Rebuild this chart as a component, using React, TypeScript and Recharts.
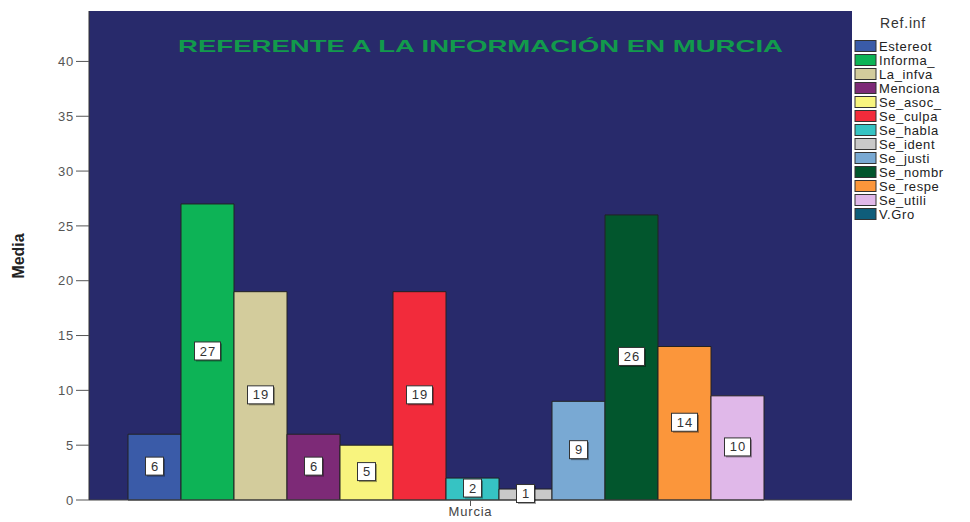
import { Bar, BarChart, CartesianGrid, LabelList, XAxis, YAxis } from "recharts"

const categories = ["Murcia"]
const series = [
  "Estereot",
  "Informa_",
  "La_infva",
  "Menciona",
  "Se_asoc_",
  "Se_culpa",
  "Se_habla",
  "Se_ident",
  "Se_justi",
  "Se_nombr",
  "Se_respe",
  "Se_utili",
  "V.Gro",
]
// media por grupo (V.Gro sin datos)
const means: (number | null)[] = [6, 27, 19, 6, 5, 19, 2, 1, 9, 26, 14, 9.5, null]
const yTicks = [0, 5, 10, 15, 20, 25, 30, 35, 40]

const colors = [
  "#3a5ba8",
  "#0db356",
  "#d3cc9c",
  "#7d2a77",
  "#f8f47e",
  "#f22b3b",
  "#36c3c3",
  "#c9c9c9",
  "#79a9d3",
  "#02562d",
  "#fb963b",
  "#e0b8e9",
  "#0f5d7a",
]

const data = categories.map((name) => {
  const row: Record<string, string | number | null> = { name }
  series.forEach((_, i) => {
    row[`v${i}`] = means[i]
  })
  return row
})

const font = "'Liberation Sans', Arial, sans-serif"

const ValueBox = (props: any) => {
  const { x, y, width, height, value } = props
  if (value == null) return null
  const txt = String(Math.round(value))
  const w = 10 + 8 * txt.length
  const cx = x + width / 2
  const cy = y + height / 2
  return (
    <g>
      <rect x={cx - w / 2 + 1.5} y={cy - 8.5} width={w} height={18} fill="#000" opacity={0.35} />
      <rect x={cx - w / 2} y={cy - 10} width={w} height={18} fill="#fff" stroke="#333" strokeWidth={1} />
      <text
        x={cx + 0.5}
        y={cy - 1}
        dy="0.35em"
        textAnchor="middle"
        fontSize={13}
        fontFamily={font}
        letterSpacing={1}
        fill="#333"
      >
        {txt}
      </text>
    </g>
  )
}

export default function App() {
  return (
    <div style={{ position: "fixed", left: 0, top: 0, width: 970, height: 522, background: "#fff" }}>
      <BarChart
        width={970}
        height={522}
        data={data}
        margin={{ top: 11, right: 118, bottom: 0, left: 0 }}
        barCategoryGap={39}
        barGap={0}
      >
        <CartesianGrid horizontal={false} vertical={false} fill="#282a6b" />
        <XAxis
          dataKey="name"
          height={22}
          tickSize={6}
          tickMargin={1}
          stroke="#555"
          axisLine={{ stroke: "#444" }}
          tick={{ fill: "#444", fontSize: 13, fontFamily: font, letterSpacing: 0.8 }}
        />
        <XAxis xAxisId="top" orientation="top" dataKey="name" height={0} tick={false} tickLine={false} axisLine={{ stroke: "#333" }} />
        <YAxis
          width={89}
          domain={[0, 44.6]}
          ticks={yTicks}
          tickSize={13}
          tickMargin={2}
          stroke="#555"
          axisLine={{ stroke: "#333" }}
          tick={{ fill: "#555", fontSize: 13, fontFamily: font, letterSpacing: 0.8 }}
        />
        <YAxis yAxisId="r" orientation="right" width={0} tick={false} tickLine={false} axisLine={{ stroke: "#333" }} />
        {series.map((s, i) => (
          <Bar
            key={s}
            dataKey={`v${i}`}
            name={s}
            fill={colors[i]}
            stroke="#222"
            strokeWidth={1}
            isAnimationActive={false}
          >
            <LabelList dataKey={`v${i}`} content={ValueBox} />
          </Bar>
        ))}
      </BarChart>
      <svg
        width={970}
        height={522}
        style={{ position: "absolute", left: 0, top: 0, pointerEvents: "none" }}
      >
        <text
          x={178}
          y={52}
          fontSize={17}
          fontWeight="bold"
          fontFamily={font}
          fill="#129a4c"
          textLength={605}
          lengthAdjust="spacingAndGlyphs"
        >
          REFERENTE A LA INFORMACIÓN EN MURCIA
        </text>
        <text
          transform="translate(24,256) rotate(-90)"
          textAnchor="middle"
          fontSize={17}
          fontWeight="bold"
          fontFamily="'Liberation Sans Narrow', 'Arial Narrow', sans-serif"
          fill="#222"
          textLength={45}
          lengthAdjust="spacingAndGlyphs"
        >
          Media
        </text>
        <text x={880} y={28} fontSize={14} fontFamily={font} fill="#333" letterSpacing={0.8}>
          Ref.inf
        </text>
        {series.map((s, i) => {
          const cy = 46 + 14 * i
          return (
            <g key={s}>
              <rect x={855} y={cy - 5.5} width={21} height={11} fill={colors[i]} stroke="#333" strokeWidth={1} />
              <text x={879} y={cy + 4.5} fontSize={13} fontFamily={font} fill="#222" letterSpacing={0.6}>
                {s}
              </text>
            </g>
          )
        })}
      </svg>
    </div>
  )
}
